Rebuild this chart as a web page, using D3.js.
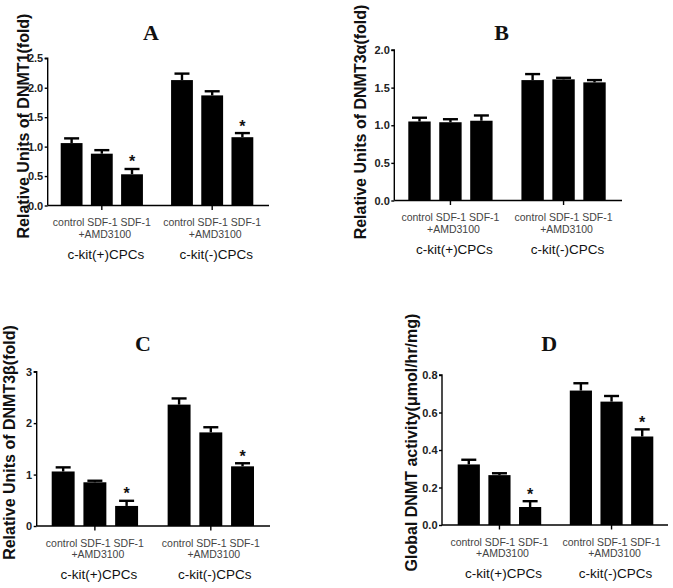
<!DOCTYPE html>
<html>
<head>
<meta charset="utf-8">
<script src="https://cdn.jsdelivr.net/npm/d3@7"></script>
<style>
  html, body { margin: 0; padding: 0; background: #fff; }
  svg { display: block; }
</style>
</head>
<body>
<svg id="chart" width="673" height="588"></svg>
<script>
// ---------------- DATA ----------------
const categories = ["control", "SDF-1", "SDF-1+AMD3100"];
const groups = ["c-kit(+)CPCs", "c-kit(-)CPCs"];
const categoryLine1 = "control SDF-1 SDF-1";
const categoryLine2 = "+AMD3100";

// Panel A: DNMT1
const dnmt1Mean = [1.06, 0.88, 0.53, 2.13, 1.87, 1.16];
const dnmt1Err  = [0.08, 0.06, 0.09, 0.11, 0.07, 0.07];
const dnmt1Star = [false, false, true, false, false, true];
const dnmt1Ticks = [0, 0.5, 1.0, 1.5, 2.0, 2.5];

// Panel B: DNMT3a
const dnmt3aMean = [1.05, 1.04, 1.06, 1.60, 1.61, 1.57];
const dnmt3aErr  = [0.05, 0.04, 0.07, 0.08, 0.02, 0.03];
const dnmt3aStar = [false, false, false, false, false, false];
const dnmt3aTicks = [0, 0.5, 1.0, 1.5, 2.0];

// Panel C: DNMT3b
const dnmt3bMean = [1.06, 0.85, 0.39, 2.36, 1.82, 1.16];
const dnmt3bErr  = [0.08, 0.03, 0.10, 0.12, 0.10, 0.06];
const dnmt3bStar = [false, false, true, false, false, true];
const dnmt3bTicks = [0, 1, 2, 3];

// Panel D: global DNMT activity
const activityMean = [0.323, 0.266, 0.096, 0.717, 0.658, 0.472];
const activityErr  = [0.025, 0.010, 0.031, 0.039, 0.030, 0.038];
const activityStar = [false, false, true, false, false, true];
const activityTicks = [0, 0.2, 0.4, 0.6, 0.8];

const panelLetters = ["A", "B", "C", "D"];
const yTitles = [
  "Relative Units of DNMT1(fold)",
  "Relative Units of DNMT3\u03b1(fold)",
  "Relative Units of DNMT3\u03b2(fold)",
  "Global DNMT activity(\u03bcmol/hr/mg)"
];

// ---------------- LAYOUT (positions only) ----------------
const layout = [
  { axisX: 47.7,  axisR: 269, y0: 205.5, yTop: 58.3,  barL: 60.7,  barR: 253.3, tx: 151,   ty: 40,    yx: 29,  yy: 126,   fmt: ".1f" },
  { axisX: 394.3, axisR: 622, y0: 200.5, yTop: 50,    barL: 408.3, barR: 605.7, tx: 501.7, ty: 40,    yx: 365.5, yy: 122, fmt: ".1f" },
  { axisX: 36.7,  axisR: 270, y0: 526,   yTop: 371.7, barL: 51.7,  barR: 254,   tx: 143,   ty: 350.7, yx: 14.5, yy: 442.5, fmt: "d" },
  { axisX: 442,   axisR: 668, y0: 525,   yTop: 375,   barL: 457.7, barR: 653.3, tx: 549.3, ty: 350.7, yx: 417, yy: 442.5, fmt: ".1f" }
];

const panelData = [
  { mean: dnmt1Mean,    err: dnmt1Err,    star: dnmt1Star,    ticks: dnmt1Ticks },
  { mean: dnmt3aMean,   err: dnmt3aErr,   star: dnmt3aStar,   ticks: dnmt3aTicks },
  { mean: dnmt3bMean,   err: dnmt3bErr,   star: dnmt3bStar,   ticks: dnmt3bTicks },
  { mean: activityMean, err: activityErr, star: activityStar, ticks: activityTicks }
];

const svg = d3.select("#chart");
svg.append("rect").attr("width", 673).attr("height", 588).attr("fill", "#fff");

const SANS = "'Liberation Sans', Arial, sans-serif";
const SERIF = "'Liberation Serif', 'Times New Roman', serif";

panelData.forEach((pd, pi) => {
  const L = layout[pi];
  const g = svg.append("g");

  const y = d3.scaleLinear()
    .domain([0, d3.max(pd.ticks)])
    .range([L.y0, L.yTop]);

  const xGroup = d3.scaleBand()
    .domain(groups)
    .range([L.barL, L.barR])
    .paddingInner(0.255)
    .paddingOuter(0);

  const xCat = d3.scaleBand()
    .domain(categories)
    .range([0, xGroup.bandwidth()])
    .paddingInner(0.277)
    .paddingOuter(0);

  const rows = pd.mean.map((m, i) => ({
    group: groups[Math.floor(i / 3)],
    cat: categories[i % 3],
    mean: m,
    err: pd.err[i],
    star: pd.star[i]
  }));

  const bx = d => xGroup(d.group) + xCat(d.cat);
  const cx = d => bx(d) + xCat.bandwidth() / 2;

  // Error bars (upper only)
  const eb = g.append("g").attr("stroke", "#000").attr("stroke-width", 2.4);
  eb.selectAll("line.stem").data(rows).join("line")
    .attr("x1", cx).attr("x2", cx)
    .attr("y1", d => y(d.mean)).attr("y2", d => y(d.mean + d.err));
  eb.selectAll("line.cap").data(rows).join("line")
    .attr("x1", d => cx(d) - 7.5).attr("x2", d => cx(d) + 7.5)
    .attr("y1", d => y(d.mean + d.err)).attr("y2", d => y(d.mean + d.err));

  // Bars
  g.append("g").selectAll("rect").data(rows).join("rect")
    .attr("x", bx)
    .attr("width", xCat.bandwidth())
    .attr("y", d => y(d.mean))
    .attr("height", d => y(0) - y(d.mean))
    .attr("fill", "#000");

  // Stars
  g.append("g").selectAll("text").data(rows.filter(d => d.star)).join("text")
    .attr("x", cx)
    .attr("y", d => y(d.mean + d.err) - 1.5)
    .attr("text-anchor", "middle")
    .attr("font-family", SANS)
    .attr("font-weight", "bold")
    .attr("font-size", 16)
    .attr("fill", "#111")
    .text("*");

  // Y axis
  const yAxis = d3.axisLeft(y)
    .tickValues(pd.ticks)
    .tickSize(3)
    .tickPadding(1.5)
    .tickFormat(d3.format(L.fmt));
  const ya = g.append("g")
    .attr("transform", `translate(${L.axisX},0)`)
    .call(yAxis);
  ya.select(".domain").attr("stroke", "#000").attr("stroke-width", 1.4)
    .attr("d", `M-3,${L.yTop}H0V${L.y0}`);
  ya.selectAll(".tick line").attr("stroke", "#000").attr("stroke-width", 1.4);
  ya.selectAll(".tick text")
    .attr("font-family", SANS)
    .attr("font-weight", "bold")
    .attr("font-size", 11)
    .attr("fill", "#222");

  // X axis line with ticks at group centers
  const xa = g.append("g").attr("transform", `translate(0,${L.y0})`);
  xa.append("line")
    .attr("x1", L.axisX).attr("x2", L.axisR)
    .attr("y1", 0).attr("y2", 0)
    .attr("stroke", "#000").attr("stroke-width", 1.4);
  xa.selectAll("line.gt").data(groups).join("line")
    .attr("class", "gt")
    .attr("x1", d => xGroup(d) + xGroup.bandwidth() / 2)
    .attr("x2", d => xGroup(d) + xGroup.bandwidth() / 2)
    .attr("y1", 0).attr("y2", 4.5)
    .attr("stroke", "#000").attr("stroke-width", 1.4);

  // Category labels
  groups.forEach(gr => {
    const gc = xGroup(gr) + xGroup.bandwidth() / 2;
    xa.append("text")
      .attr("x", gc).attr("y", 20.5)
      .attr("text-anchor", "middle")
      .attr("font-family", SANS).attr("font-size", 10.5)
      .attr("fill", "#444")
      .text(categoryLine1);
    xa.append("text")
      .attr("x", gc + 3).attr("y", 32)
      .attr("text-anchor", "middle")
      .attr("font-family", SANS).attr("font-size", 10.5)
      .attr("fill", "#444")
      .text(categoryLine2);
    xa.append("text")
      .attr("x", gc + 4).attr("y", 53)
      .attr("text-anchor", "middle")
      .attr("font-family", SANS).attr("font-size", 13.5)
      .attr("fill", "#111")
      .text(gr);
  });

  // Panel letter
  g.append("text")
    .attr("x", L.tx).attr("y", L.ty)
    .attr("text-anchor", "middle")
    .attr("font-family", SERIF)
    .attr("font-weight", "bold")
    .attr("font-size", 22)
    .attr("fill", "#111")
    .text(panelLetters[pi]);

  // Y title
  g.append("text")
    .attr("transform", `translate(${L.yx},${L.yy}) rotate(-90)`)
    .attr("text-anchor", "middle")
    .attr("font-family", SANS)
    .attr("font-weight", "bold")
    .attr("font-size", 16)
    .attr("fill", "#111")
    .text(yTitles[pi]);
});
</script>
</body>
</html>
